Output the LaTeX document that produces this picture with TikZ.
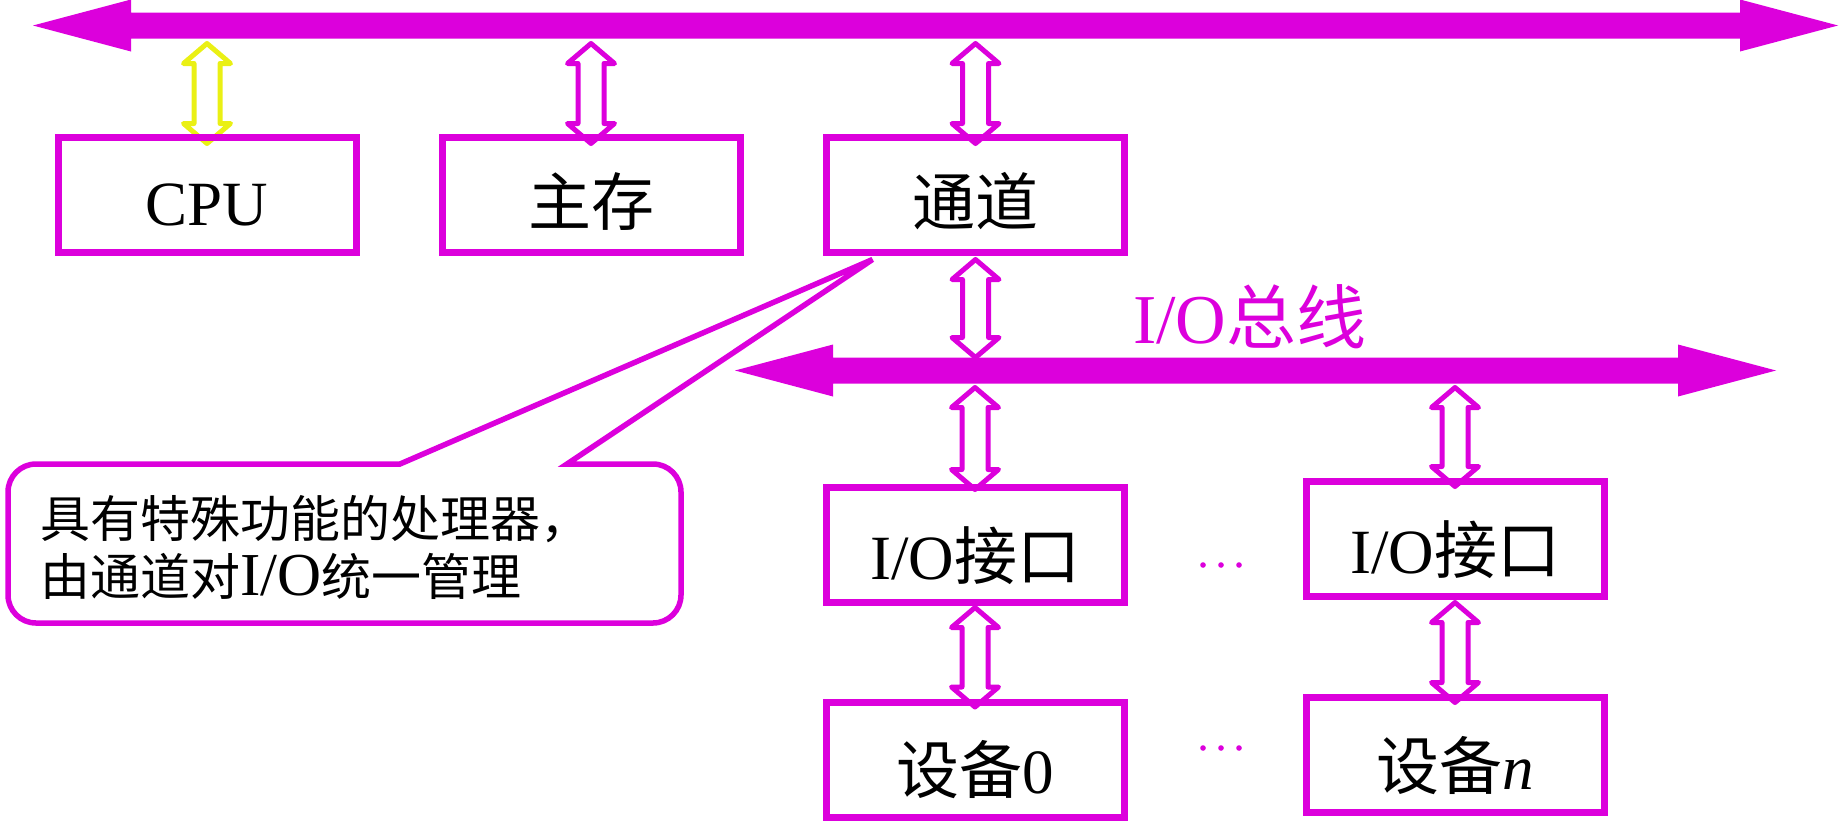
\documentclass[tikz,border=0pt]{standalone}
\usepackage{fontspec}
\setmainfont{Liberation Serif}
\newfontfamily\cjk{Noto Sans CJK SC}
\usetikzlibrary{calc,backgrounds}
\definecolor{mag}{RGB}{220,0,220}
\definecolor{ylw}{RGB}{234,240,20}
\tikzset{
  box/.style={draw=mag, line width=7pt, minimum width=298pt, minimum height=115pt,
    inner sep=0pt, outer sep=0pt, text height=68pt, text depth=0pt,
    font=\fontsize{63}{70}\selectfont},
  toprow/.style={text height=60pt},
  hollow/.style={line width=5pt, line join=round, line cap=round},
  bubble/.style={draw=mag, line width=5.5pt, line join=miter},
  note/.style={inner sep=0pt, text width=660pt, align=left, font=\fontsize{50}{58}\selectfont},
  buslabel/.style={inner sep=0pt, text=mag, font=\fontsize{70}{80}\selectfont}
}
\newcommand{\hollowarrow}[3][mag]{%
  \draw[hollow,draw=#1] let \p1=#2, \p2=#3 in
    (\x1,\y1) -- (\x1+23.5pt,\y1-20pt) -- (\x1+13pt,\y1-20pt) -- (\x1+13pt,\y2+20pt)
    -- (\x1+23.5pt,\y2+20pt) -- (\x1,\y2) -- (\x1-23.5pt,\y2+20pt) -- (\x1-13pt,\y2+20pt)
    -- (\x1-13pt,\y1-20pt) -- (\x1-23.5pt,\y1-20pt) -- cycle;}
\newcommand{\busarrow}[2]{%
  \fill[mag] let \p1=#1, \p2=#2 in
    (\x1,\y1) -- (\x1+98pt,\y1+26pt) -- (\x1+98pt,\y1+13pt) -- (\x2-98pt,\y1+13pt)
    -- (\x2-98pt,\y1+26pt) -- (\x2,\y2) -- (\x2-98pt,\y1-26pt) -- (\x2-98pt,\y1-13pt)
    -- (\x1+98pt,\y1-13pt) -- (\x1+98pt,\y1-26pt) -- cycle;}
\begin{document}
\begin{tikzpicture}[x=1pt,y=-1pt]
\useasboundingbox (0,0) rectangle (1841,822);

% boxes
\node[box,toprow] (cpu) at (207,195) {CPU};
\node[box,toprow] (mem) at (591,195) {\cjk 主存};
\node[box,toprow] (ch) at (975.5,195) {\cjk 通道};
\node[box] (io1) at (975,545) {I/O{\cjk 接口}};
\node[box] (io2) at (1455,539) {I/O{\cjk 接口}};
\node[box] (dev0) at (975,759.5) {{\cjk 设备}0};
\node[box] (devn) at (1455,755) {{\cjk 设备}\textit{n}};

% bus end points
\coordinate (busL) at (33,25.5);
\coordinate (busR) at (1838,25.5);
\coordinate (ioL) at (735,370.5);
\coordinate (ioR) at (1776,370.5);

% hollow arrow end points
\coordinate (cpuT) at ($(cpu.north)+(0,-94)$);
\coordinate (cpuB) at ($(cpu.north)+(0,6)$);
\coordinate (memT) at ($(mem.north)+(0,-94)$);
\coordinate (memB) at ($(mem.north)+(0,6)$);
\coordinate (chT) at ($(ch.north)+(0,-94)$);
\coordinate (chB) at ($(ch.north)+(0,6)$);
\coordinate (chDT) at ($(ch.south)+(0,7)$);
\coordinate (chDB) at ($(ch.south |- ioL)+(0,-13)$);
\coordinate (io1T) at ($(io1.north |- ioL)+(0,17)$);
\coordinate (io1B) at ($(io1.north)+(0,2)$);
\coordinate (io2T) at ($(io2.north |- ioL)+(0,17)$);
\coordinate (io2B) at ($(io2.north)+(0,5)$);
\coordinate (d0T) at ($(io1.south)+(0,5)$);
\coordinate (d0B) at ($(dev0.north)+(0,5)$);
\coordinate (dnT) at ($(io2.south)+(0,6)$);
\coordinate (dnB) at ($(devn.north)+(0,5)$);

\begin{pgfonlayer}{background}
  \hollowarrow[ylw]{(cpuT)}{(cpuB)}
  \hollowarrow{(memT)}{(memB)}
  \hollowarrow{(chT)}{(chB)}
  \hollowarrow{(chDT)}{(chDB)}
  \hollowarrow{(io1T)}{(io1B)}
  \hollowarrow{(io2T)}{(io2B)}
  \hollowarrow{(d0T)}{(d0B)}
  \hollowarrow{(dnT)}{(dnB)}
\end{pgfonlayer}

% buses
\busarrow{(busL)}{(busR)}
\busarrow{(ioL)}{(ioR)}
\node[buslabel, anchor=base west] (iolabel) at (1133,343) {I/O{\cjk 总线}};

% dots
\foreach \yy in {565,748} {
  \fill[mag] (1203,\yy) circle (2.8pt);
  \fill[mag] (1221,\yy) circle (2.8pt);
  \fill[mag] (1239,\yy) circle (2.8pt);
}

% callout
\coordinate (tip) at ($(ch.south west)+(46,7)$);
\draw[bubble] (300,464) -- (400,464) -- (tip) -- (567,464) -- (600,464)
  [rounded corners=28pt] -- (681,464) -- (681,623) -- (8,623) -- (8,464) -- cycle;
\node[note, anchor=base west] (note) at (40,537)
  {{\cjk 具有特殊功能的处理器，}\\{\cjk 由通道对}{\fontsize{61}{58}\selectfont I/O}{\cjk 统一管理}};
\end{tikzpicture}
\end{document}
